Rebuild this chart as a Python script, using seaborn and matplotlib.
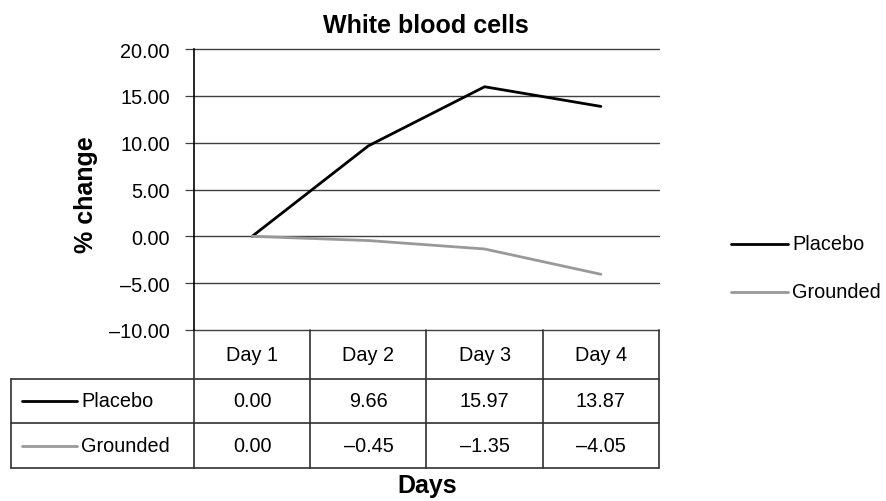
import numpy as np
import pandas as pd
import matplotlib
matplotlib.use("Agg")
import matplotlib.pyplot as plt
import matplotlib.transforms as mtransforms
import seaborn as sns

days = ["Day 1", "Day 2", "Day 3", "Day 4"]
placebo = [0.00, 9.66, 15.97, 13.87]
grounded = [0.00, -0.45, -1.35, -4.05]
series_names = ["Placebo", "Grounded"]
yticks = [20, 15, 10, 5, 0, -5, -10]

colors = {"Placebo": "#000000", "Grounded": "#999999"}

df = pd.DataFrame({
    "pos": list(range(len(days))) * 2,
    "value": placebo + grounded,
    "series": ["Placebo"] * len(days) + ["Grounded"] * len(days),
})

sns.set_style("white")
plt.rcParams["font.family"] = ["Liberation Sans", "DejaVu Sans"]
plt.rcParams["text.color"] = "black"
plt.rcParams["ytick.labelcolor"] = "black"

FS = 14.3
BFS = 18

fig = plt.figure(figsize=(8.86, 5.02), dpi=100)
ax = fig.add_axes([194 / 886, 1 - 331 / 502, 465 / 886, 281 / 502])

for y in yticks:
    ax.axhline(y, color="#404040", linewidth=1.0, zorder=1, clip_on=False)

sns.lineplot(data=df, x="pos", y="value", hue="series", palette=colors,
             hue_order=series_names, linewidth=2, ax=ax, legend=False, zorder=3)

ax.set_xlim(-0.5, len(days) - 0.5)
ax.set_ylim(-10, 20)
ax.set_yticks(yticks)
ax.set_yticklabels([f"{v:.2f}".replace("-", "\u2013") for v in yticks], fontsize=FS)
ax.tick_params(axis="y", length=6.5, width=0.9, color="#404040", pad=10.8,
               left=True, labelcolor="black")
ax.set_xticks([])
ax.set_xlabel("")
ax.set_ylabel("")
for s in ["top", "right", "bottom"]:
    ax.spines[s].set_visible(False)
ax.spines["left"].set_color("#000000")
ax.spines["left"].set_linewidth(1.2)

fig.text(426 / 886, 1 - 33 / 502, "White blood cells", ha="center", va="baseline",
         fontsize=BFS, fontweight="bold")
fig.text(86 / 886, 1 - 195 / 502, "% change", ha="center", va="center",
         rotation=90, fontsize=BFS, fontweight="bold")
fig.text(427 / 886, 1 - 493 / 502, "Days", ha="center", va="baseline",
         fontsize=BFS, fontweight="bold")

# data table under the plot (x in data units, y in axes units)
tr = mtransforms.blended_transform_factory(ax.transData, ax.transAxes)
row_h = [(331, 380), (380, 424), (424, 469)]
def ya(py):
    return (331 - py) / 281

x_left = -0.5 - 183 / 116.25
x_right = len(days) - 0.5
lk = dict(color="#303030", linewidth=1.2, transform=tr, clip_on=False)

ax.plot([-0.5, -0.5], [ya(331), ya(469)], **lk)
for i in range(len(days)):
    ax.plot([i + 0.5, i + 0.5], [ya(331), ya(469)], **lk)
ax.plot([x_left, x_left], [ya(380), ya(469)], **lk)
for py in (380, 424, 469):
    ax.plot([x_left, x_right], [ya(py), ya(py)], **lk)

for i, d in enumerate(days):
    ax.text(i, ya(356), d, ha="center", va="center", fontsize=FS, transform=tr)

rows = [placebo, grounded]
for r, (name, vals) in enumerate(zip(series_names, rows)):
    yc = ya((row_h[r + 1][0] + row_h[r + 1][1]) / 2)
    for i, v in enumerate(vals):
        ax.text(i, yc, f"{v:.2f}".replace("-", "\u2013"), ha="center",
                va="center", fontsize=FS, transform=tr)
    lx0 = x_left + 11 / 116.25
    lx1 = x_left + 66 / 116.25
    ax.plot([lx0, lx1], [yc, yc], color=colors[name], linewidth=2,
            transform=tr, clip_on=False)
    ax.text(lx1 + 4 / 116.25, yc, name, ha="left", va="center",
            fontsize=FS, transform=tr)

# legend at right
for name, py in zip(series_names, (245, 293)):
    fig.add_artist(plt.Line2D([731 / 886, 788 / 886], [1 - py / 502, 1 - py / 502],
                              color=colors[name], linewidth=2))
    fig.text(792 / 886, 1 - py / 502, name, ha="left", va="center", fontsize=FS)

fig.savefig("out.png", dpi=100)
